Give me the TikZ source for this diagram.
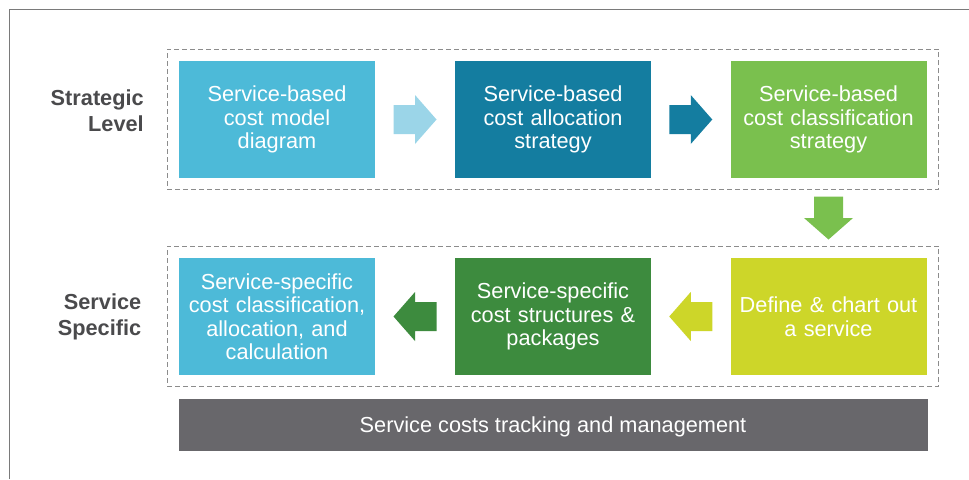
\documentclass[tikz,border=0pt]{standalone}
\usepackage{fontspec}
\setmainfont{Liberation Sans}
\usetikzlibrary{calc,fit}

\definecolor{skyblue}{HTML}{4DBAD8}
\definecolor{paleblue}{HTML}{9BD5E8}
\definecolor{deepteal}{HTML}{147DA0}
\definecolor{leafgreen}{HTML}{7AC04E}
\definecolor{limegreen}{HTML}{CDD629}
\definecolor{forestgreen}{HTML}{3D8B3E}
\definecolor{bargray}{HTML}{68676B}
\definecolor{labelgray}{HTML}{4A4A4C}
\definecolor{dashgray}{HTML}{8C8C8C}
\definecolor{framegray}{HTML}{7A7A7A}

\tikzset{
  stagebox/.style={fill=#1, text=white, minimum width=147pt, minimum height=87.75pt,
    text width=142pt, align=center, inner sep=0pt, font=\fontsize{16.3}{17.6}\selectfont},
  groupbox/.style={draw=dashgray, dash pattern=on 3.75pt off 2.25pt, line width=0.7pt, inner sep=8.75pt},
  levellabel/.style={text=labelgray, font=\bfseries\fontsize{16.3}{19.5}\selectfont, align=right,
    anchor=east, inner sep=0pt},
  pics/blockarrow/.style={code={
    \fill[#1] (-21.5,-14.5) -- (0,-14.5) -- (0,-24.5) -- (21.5,0) -- (0,24.5) -- (0,14.5) -- (-21.5,14.5) -- cycle;
  }}
}

\begin{document}
\begin{tikzpicture}[x=0.75pt, y=-0.75pt]
    \useasboundingbox[fill=white] (0,0) rectangle (969,479);
    \draw[framegray, line width=1.1pt] (9.5,479) |- (969,9.5);

    % strategic row
    \node[stagebox=skyblue] (model) at (277,119.5) {Service-based\\cost model\\diagram};
    \node[stagebox=deepteal] (alloc) at (553,119.5) {Service-based\\cost allocation\\strategy};
    \node[stagebox=leafgreen] (classify) at (828.5,119.5) {Service-based\\cost classification\\strategy};

    % service specific row
    \node[stagebox=skyblue] (calc) at (277,316.5) {Service-specific\\cost classification,\\allocation, and\\calculation};
    \node[stagebox=forestgreen] (packages) at (553,316.5) {Service-specific\\cost structures \&\\packages};
    \node[stagebox=limegreen] (define) at (828.5,316.5) {Define \& chart out\\a service};

    \node[groupbox, fit=(model)(classify)] (strategic) {};
    \node[groupbox, fit=(calc)(define)] (specific) {};

    \node[levellabel] (strategiclbl) at (144,111) {Strategic\\Level};
    \node[levellabel] (specificlbl) at (141.5,317) {Service\\Specific};

    \node[fill=bargray, text=white, minimum width=561.75pt, minimum height=39pt, inner sep=0pt,
      text height=11.7pt, text depth=0pt,
      font=\fontsize{16.3}{17.6}\selectfont] (tracking) at (553,425) {Service costs tracking and management};

    % block arrows between the stages
    \pic at ($(model.east)!.5!(alloc.west)$) {blockarrow=paleblue};
    \pic at ($(alloc.east)!.5!(classify.west)$) {blockarrow=deepteal};
    \pic[rotate=-90] at ($(classify.south)!.5!(define.north)$) {blockarrow=leafgreen};
    \pic[rotate=180] at ($(define.west)!.5!(packages.east)$) {blockarrow=limegreen};
    \pic[rotate=180] at ($(packages.west)!.5!(calc.east)$) {blockarrow=forestgreen};
\end{tikzpicture}
\end{document}
